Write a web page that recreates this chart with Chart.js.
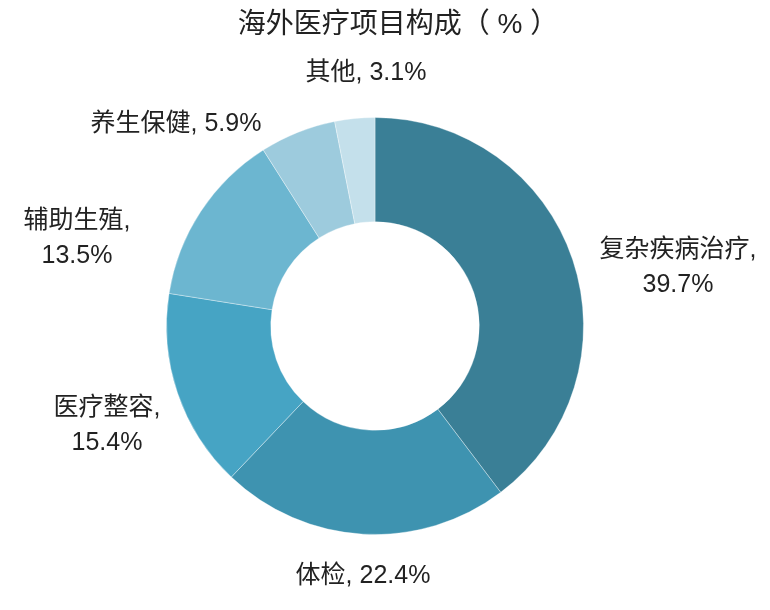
<!DOCTYPE html>
<html>
<head>
<meta charset="utf-8">
<script src="https://cdn.jsdelivr.net/npm/chart.js@4/dist/chart.umd.min.js"></script>
<style>
  html, body { margin: 0; padding: 0; background: #fff; }
  #wrap { width: 770px; height: 610px; position: relative; }
</style>
</head>
<body>
<div id="wrap"><canvas id="myChart" width="770" height="610"></canvas></div>
<script>
// data
const categories = ['复杂疾病治疗', '体检', '医疗整容', '辅助生殖', '养生保健', '其他'];
const shares = [39.7, 22.4, 15.4, 13.5, 5.9, 3.1];
const sliceColors = ['#3a7f96', '#3e93b0', '#46a4c4', '#6cb6d0', '#9dcbdd', '#c4e0eb'];
const titleText = '海外医疗项目构成（ % ）';

// where each label sits (text anchor, lines centred) and whether it breaks in two
const labelSpots = [
  { x: 678, y: 250, split: true },
  { x: 363, y: 576, split: false },
  { x: 107, y: 408, split: true },
  { x: 77,  y: 221, split: true },
  { x: 176, y: 124, split: false },
  { x: 366, y: 73,  split: false }
];

const FONT = '"Liberation Sans", "Noto Sans CJK SC", sans-serif';

const labelPlugin = {
  id: 'sliceLabels',
  afterDraw(chart) {
    const ctx = chart.ctx;
    ctx.save();
    ctx.fillStyle = '#222';
    ctx.textAlign = 'center';
    ctx.textBaseline = 'middle';
    ctx.font = '28px ' + FONT;
    ctx.fillText(titleText, 398, 25);

    ctx.font = '25px ' + FONT;
    const ds = chart.data.datasets[0];
    chart.data.labels.forEach((lab, i) => {
      const spot = labelSpots[i];
      const val = ds.data[i].toFixed(1) + '%';
      if (spot.split) {
        ctx.fillText(lab + ',', spot.x, spot.y);
        ctx.fillText(val, spot.x, spot.y + 35);
      } else {
        ctx.fillText(lab + ', ' + val, spot.x, spot.y);
      }
    });
    ctx.restore();
  }
};

const ctx = document.getElementById('myChart').getContext('2d');
const myChart = new Chart(ctx, {
  type: 'doughnut',
  data: {
    labels: categories,
    datasets: [{
      data: shares,
      backgroundColor: sliceColors,
      borderColor: 'rgba(255,255,255,0.35)',
      borderWidth: 1
    }]
  },
  options: {
    responsive: false,
    animation: false,
    cutout: '50%',
    layout: {
      padding: { left: 166, right: 186, top: 117, bottom: 75 }
    },
    plugins: {
      legend: { display: false },
      tooltip: { enabled: false }
    }
  },
  plugins: [labelPlugin]
});
</script>
</body>
</html>
